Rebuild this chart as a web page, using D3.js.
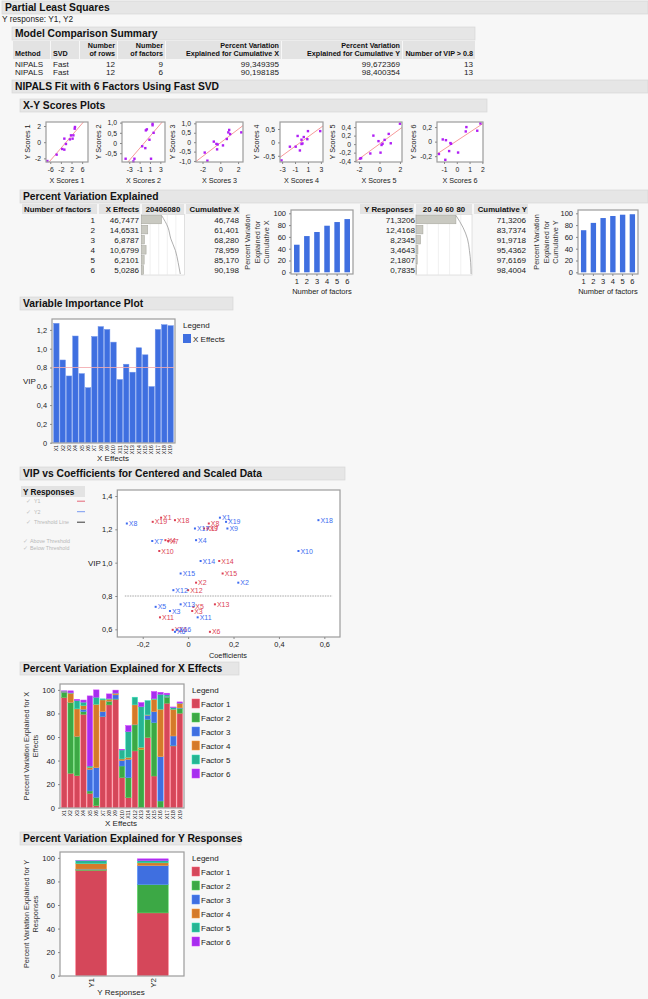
<!DOCTYPE html>
<html>
<head>
<meta charset="utf-8">
<script src="https://cdn.jsdelivr.net/npm/d3@7"></script>
<style>
body { margin: 0; background: #f7f7f7; }
svg { display: block; font-family: "Liberation Sans", Arial, Helvetica, sans-serif; }
</style>
</head>
<body>
<div id="chart"></div>
<script>

// ---- data ----
var summaryMethod = ["NIPALS", "NIPALS"];
var summarySVD = ["Fast", "Fast"];
var summaryRows = [12, 12];
var summaryFactors = [9, 6];
var summaryCumX = [99.349395, 90.198185];
var summaryCumY = [99.672369, 98.400354];
var summaryVIP = [13, 13];

var factorNums = [1, 2, 3, 4, 5, 6];
var xEffectsPct = [46.7477, 14.6531, 6.8787, 10.6799, 6.2101, 5.0286];
var cumulativeX = [46.748, 61.401, 68.280, 78.959, 85.170, 90.198];
var yResponsesPct = [71.3206, 12.4168, 8.2345, 3.4643, 2.1807, 0.7835];
var cumulativeY = [71.3206, 83.7374, 91.9718, 95.4362, 97.6169, 98.4004];

// X-Y scores, one pair of arrays per factor
var xScores1 = [-7.1, -3.6, -1.5, -0.7, -0.7, -0.1, 1.4, 1.8, 2.4, 2.7, 3.2, 3.3];
var yScores1 = [-2.33, -1.54, -0.84, -0.92, 0.44, -0.22, 0.35, 0.85, 0.44, 0.85, 1.67, 1.88];
var xScores2 = [-3.7, -2.2, -2.0, -0.5, 0.1, 0.2, 0.4, 0.9, 1.2, 1.5, 1.5, 1.7];
var yScores2 = [-0.77, -0.9, -0.77, -0.16, -0.25, 0.62, 0.67, 0.16, -0.77, 0.95, 0.87, 0.5];
var xScores3 = [-1.75, -1.45, -0.73, -0.44, -0.3, -0.36, 0.3, 0.73, 0.9, 1.1, 1.0, 2.36];
var yScores3 = [-0.55, -0.98, 0.03, -0.09, -0.12, -0.38, -0.17, 0.17, 0.52, 0.43, 0.65, 0.52];
var xScores4 = [-3.1, -1.8, -0.9, -0.6, -0.25, 0.0, 0.15, 0.35, 0.9, 1.0, 0.0, 2.9];
var yScores4 = [-0.67, -0.16, -0.16, 0.24, -0.3, 0.1, -0.04, 0.2, 0.12, 0.42, -0.06, 0.42];
var xScores5 = [-1.9, -1.8, -0.9, -0.6, -0.1, 0.1, 0.2, 0.3, 0.5, 0.9, 1.1, 2.0];
var yScores5 = [-0.34, -0.33, -0.22, 0.2, 0.07, -0.2, -0.02, 0.01, 0.1, 0.24, 0.02, 0.48];
var xScores6 = [-1.4, -1.1, -0.85, -0.9, -0.6, -0.5, -0.45, 0.1, 0.7, 0.75, 1.6, 1.85];
var yScores6 = [-0.17, 0.03, 0.02, -0.25, -0.13, -0.02, -0.03, -0.15, 0.14, 0.2, 0.15, 0.25];

var xNames = ["X1","X2","X3","X4","X5","X6","X7","X8","X9","X10","X11","X12","X13","X14","X15","X16","X17","X18","X19"];
var vip = [1.27, 0.88, 0.71, 1.135, 0.735, 0.585, 1.13, 1.235, 1.205, 1.07, 0.672, 0.835, 0.75, 1.01, 0.935, 0.597, 1.205, 1.255, 1.245];
var coefY1 = [-0.119, 0.035, 0.018, -0.10, 0.023, 0.096, -0.088, 0.091, 0.085, -0.127, -0.124, 0.0, 0.118, 0.137, 0.152, -0.068, 0.07, -0.058, -0.156];
var coefY2 = [0.14, 0.221, -0.08, 0.035, -0.143, -0.058, -0.158, -0.27, 0.173, 0.486, 0.042, -0.065, -0.033, 0.055, -0.033, -0.05, 0.03, 0.574, 0.167];

var factorNames = ["Factor 1", "Factor 2", "Factor 3", "Factor 4", "Factor 5", "Factor 6"];
var factorColors = ["#d5475a", "#3ca845", "#3f6fe0", "#d47a2a", "#27b493", "#a62eef"];
var xVarFactor1 = [93.5, 29.2, 27.2, 79.3, 12.2, 1.7, 77.3, 87.3, 92.0, 25.5, 8.5, 48.2, 0.2, 59.5, 26.9, 0.2, 88.7, 52.4, 80.2];
var xVarFactor2 = [4.5, 60.0, 33.1, 2.3, 2.0, 7.1, 0.3, 2.8, 0.3, 9.9, 17.0, 22.1, 49.4, 15.5, 45.3, 5.5, 5.1, 0.3, 4.2];
var xVarFactor3 = [0.2, 0.2, 0.3, 2.0, 18.4, 25.2, 4.0, 0.3, 3.5, 4.6, 15.6, 0.3, 0.0, 3.5, 9.4, 37.6, 0.2, 8.2, 0.3];
var xVarFactor4 = [0.5, 7.8, 23.3, 3.0, 1.7, 53.8, 9.9, 1.7, 1.2, 1.4, 1.7, 16.7, 1.7, 0.3, 10.4, 40.3, 0.3, 22.7, 3.8];
var xVarFactor5 = [0.3, 0.3, 7.1, 3.0, 1.1, 6.0, 0.9, 0.5, 0.3, 7.6, 21.8, 6.5, 34.5, 12.1, 0.5, 12.7, 1.5, 1.4, 0.3];
var xVarFactor6 = [0.2, 1.7, 1.0, 1.8, 59.5, 6.2, 0.0, 4.0, 2.5, 0.6, 5.1, 0.0, 3.4, 0.0, 6.1, 1.7, 1.4, 0.5, 1.0];

var yNames = ["Y1", "Y2"];
var yVarFactor1 = [89.4, 53.3];
var yVarFactor2 = [0.8, 24.0];
var yVarFactor3 = [0.3, 16.2];
var yVarFactor4 = [4.6, 2.3];
var yVarFactor5 = [2.5, 1.9];
var yVarFactor6 = [0.1, 1.5];

// ---- helpers ----
var svg = d3.select("#chart").append("svg")
    .attr("width", 648)
    .attr("height", 999);

svg.append("rect").attr("width", 648).attr("height", 999).attr("fill", "#f7f7f7");

function fmtDec(v, n) {
    return d3.format("." + n + "f")(v).replace(".", ",").replace("\u2212", "-");
}
function tickFmt(n) {
    return function(d) { return d === 0 ? "0" : fmtDec(d, n); };
}

function header(x, y, w, label) {
    svg.append("rect")
        .attr("x", x).attr("y", y)
        .attr("width", w).attr("height", 13)
        .attr("fill", "#e6e6e6")
        .attr("stroke", "#d3d3d3")
        .attr("stroke-width", 0.6);
    svg.append("text")
        .attr("x", x + 3).attr("y", y + 10)
        .attr("font-size", 10.3)
        .attr("font-weight", "bold")
        .attr("fill", "#111")
        .text(label);
}

function txt(x, y, s, size, anchor, opts) {
    opts = opts || {};
    return svg.append("text")
        .attr("x", x).attr("y", y)
        .attr("font-size", size)
        .attr("text-anchor", anchor || "start")
        .attr("font-weight", opts.bold ? "bold" : "normal")
        .attr("fill", opts.fill || "#222")
        .text(s);
}

function frame(x0, y0, x1, y1) {
    return svg.append("rect")
        .attr("x", x0).attr("y", y0)
        .attr("width", x1 - x0).attr("height", y1 - y0)
        .attr("fill", "none")
        .attr("stroke", "#9c9c9c")
        .attr("stroke-width", 1.2);
}

function styleAxis(g, size) {
    g.select(".domain").remove();
    g.selectAll("line").attr("stroke", "#888");
    g.selectAll("text").attr("fill", "#222");
    g.attr("font-size", size).attr("font-family", null);
}

// ---- top section ----
header(2, 1, 646, "Partial Least Squares");
txt(2, 21.5, "Y response: Y1, Y2", 8.3);

header(12, 27, 463, "Model Comparison Summary");

var mcCols = [
    {x0: 13, x1: 50, lines: ["", "Method"], anchor: "start"},
    {x0: 51, x1: 79, lines: ["", "SVD"], anchor: "start"},
    {x0: 80, x1: 117, lines: ["Number", "of rows"], anchor: "end"},
    {x0: 118, x1: 165, lines: ["Number", "of factors"], anchor: "end"},
    {x0: 166, x1: 281, lines: ["Percent Variation", "Explained for Cumulative X"], anchor: "end"},
    {x0: 282, x1: 402, lines: ["Percent Variation", "Explained for Cumulative Y"], anchor: "end"},
    {x0: 403, x1: 475, lines: ["", "Number of VIP > 0.8"], anchor: "end"}
];
mcCols.forEach(function(c) {
    svg.append("rect").attr("x", c.x0).attr("y", 41).attr("width", c.x1 - c.x0).attr("height", 18)
        .attr("fill", "#e3e3e3");
    var tx = c.anchor == "start" ? c.x0 + 2 : c.x1 - 2;
    c.lines.forEach(function(l, i) {
        if (l) txt(tx, 48 + i * 8, l, 7.2, c.anchor, {bold: true, fill: "#111"});
    });
});

summaryMethod.forEach(function(m, i) {
    var yy = 66.5 + i * 8.3;
    txt(15, yy, m, 8.1);
    txt(53, yy, summarySVD[i], 8.1);
    txt(115, yy, summaryRows[i], 8.1, "end");
    txt(163, yy, summaryFactors[i], 8.1, "end");
    txt(279, yy, fmtDec(summaryCumX[i], 6), 8.1, "end");
    txt(400, yy, fmtDec(summaryCumY[i], 6), 8.1, "end");
    txt(473, yy, summaryVIP[i], 8.1, "end");
});

header(12, 80, 636, "NIPALS Fit with 6 Factors Using Fast SVD");
header(20, 99, 467, "X-Y Scores Plots");

// ---- X-Y scores plots ----
var scoresSpec = [
    {xs: xScores1, ys: yScores1, left: 46, w: 42, xd: [-7.6, 8.2], yd: [-2.45, 2.5], xt: [-6, -2, 2, 6], yt: [2, 0, -2], dec: 0, lab: 16},
    {xs: xScores2, ys: yScores2, left: 122, w: 43, xd: [-4.4, 3.9], yd: [-0.93, 1.03], xt: [-3, -1, 1, 3], yt: [1, 0.5, 0, -0.5], dec: 1, lab: 21},
    {xs: xScores3, ys: yScores3, left: 196, w: 47, xd: [-2.73, 2.55], yd: [-1.05, 1.07], xt: [-2, 0, 2], yt: [1, 0.5, 0, -0.5, -1], dec: 1, lab: 21},
    {xs: xScores4, ys: yScores4, left: 280, w: 43, xd: [-3.33, 3.33], yd: [-0.73, 0.76], xt: [-3, -1, 1, 3], yt: [0.5, 0, -0.5], dec: 1, lab: 21},
    {xs: xScores5, ys: yScores5, left: 356, w: 46, xd: [-2.3, 2.2], yd: [-0.42, 0.52], xt: [-2, 0, 2], yt: [0.4, 0.2, 0, -0.2, -0.4], dec: 1, lab: 21},
    {xs: xScores6, ys: yScores6, left: 437, w: 46, xd: [-1.55, 2.05], yd: [-0.28, 0.27], xt: [-1, 0, 1, 2], yt: [0.2, 0, -0.2], dec: 1, lab: 21}
];

scoresSpec.forEach(function(s, k) {
    var top = 122, h = 40;
    var x = d3.scaleLinear().domain(s.xd).range([s.left, s.left + s.w]);
    var y = d3.scaleLinear().domain(s.yd).range([top + h, top]);

    svg.append("rect").attr("x", s.left).attr("y", top).attr("width", s.w).attr("height", h).attr("fill", "#fff");
    svg.append("clipPath").attr("id", "clipS" + k)
        .append("rect").attr("x", s.left).attr("y", top).attr("width", s.w).attr("height", h);

    // least squares fit line
    var mx = d3.mean(s.xs), my = d3.mean(s.ys);
    var sxy = d3.sum(s.xs, function(v, i) { return (v - mx) * (s.ys[i] - my); });
    var sxx = d3.sum(s.xs, function(v) { return (v - mx) * (v - mx); });
    var b = sxy / sxx, a = my - b * mx;
    svg.append("line")
        .attr("clip-path", "url(#clipS" + k + ")")
        .attr("x1", x(s.xd[0])).attr("y1", y(a + b * s.xd[0]))
        .attr("x2", x(s.xd[1])).attr("y2", y(a + b * s.xd[1]))
        .attr("stroke", "#f79a9a").attr("stroke-width", 1);

    svg.append("g").selectAll("rect")
        .data(s.xs)
        .enter().append("rect")
        .attr("x", function(d) { return x(d) - 1.2; })
        .attr("y", function(d, i) { return y(s.ys[i]) - 1.2; })
        .attr("width", 2.4).attr("height", 2.4)
        .attr("fill", "#b01ff5");

    frame(s.left, top, s.left + s.w, top + h);

    var gx = svg.append("g").attr("transform", "translate(0," + (top + h) + ")")
        .call(d3.axisBottom(x).tickValues(s.xt).tickSize(2).tickFormat(tickFmt(0)));
    styleAxis(gx, 6.8);
    var gy = svg.append("g").attr("transform", "translate(" + s.left + ",0)")
        .call(d3.axisLeft(y).tickValues(s.yt).tickSize(2).tickFormat(tickFmt(s.dec)));
    styleAxis(gy, 6.8);

    txt(s.left + s.w / 2, 183, "X Scores " + (k + 1), 7.2, "middle");
    svg.append("text")
        .attr("transform", "translate(" + (s.left - s.lab) + "," + (top + h / 2) + ") rotate(-90)")
        .attr("font-size", 7.2).attr("text-anchor", "middle").attr("fill", "#222")
        .text("Y Scores " + (k + 1));
});

// ---- Percent Variation Explained ----
header(20, 190, 628, "Percent Variation Explained");

var rowY0 = 219.5, rowStep = 10.1;

function barCell(x0, x1, values, cum) {
    var top = 214.5, bottom = 275;
    var bx = d3.scaleLinear().domain([0, 100]).range([x0, x1]);
    svg.append("rect").attr("x", x0).attr("y", top).attr("width", x1 - x0).attr("height", bottom - top)
        .attr("fill", "#fff").attr("stroke", "#cfcfcf").attr("stroke-width", 0.6);
    svg.append("g").selectAll("line")
        .data([20, 40, 60, 80])
        .enter().append("line")
        .attr("x1", bx).attr("x2", bx)
        .attr("y1", top).attr("y2", bottom)
        .attr("stroke", "#e6e6e6").attr("stroke-width", 0.6);
    svg.append("g").selectAll("rect")
        .data(values)
        .enter().append("rect")
        .attr("x", x0)
        .attr("y", function(d, i) { return rowY0 + i * rowStep - 4.3; })
        .attr("width", function(d) { return bx(d) - x0; })
        .attr("height", 8.6)
        .attr("fill", "#c9c9c1").attr("stroke", "#a2a29a").attr("stroke-width", 0.5);
    var cy = d3.scaleLinear().domain([0, cum.length - 1]).range([top + 1, bottom - 1]);
    svg.append("path")
        .datum(cum)
        .attr("d", d3.line().x(function(d) { return bx(d); }).y(function(d, i) { return cy(i); }).curve(d3.curveMonotoneY))
        .attr("fill", "none").attr("stroke", "#9a9a9a").attr("stroke-width", 0.8);
    // tick labels in header
    [20, 40, 60, 80].forEach(function(t) {
        txt(bx(t), 212, t, 7.8, "middle", {bold: true, fill: "#111"});
    });
}

function headCell(x0, x1, label, anchor) {
    svg.append("rect").attr("x", x0).attr("y", 204).attr("width", x1 - x0).attr("height", 10).attr("fill", "#e3e3e3");
    if (label) txt(anchor == "end" ? x1 - 1 : x0 + 2, 212, label, 7.8, anchor || "start", {bold: true, fill: "#111"});
}

// table X
headCell(22, 97, "Number of factors");
headCell(99, 140, "X Effects", "end");
headCell(142, 184, "");
headCell(186, 240, "Cumulative X", "end");
barCell(141.5, 184.5, xEffectsPct, cumulativeX);
factorNums.forEach(function(f, i) {
    var yy = rowY0 + i * rowStep + 3;
    txt(95, yy, f, 8.1, "end");
    txt(139, yy, fmtDec(xEffectsPct[i], 4), 8.1, "end");
    txt(239, yy, fmtDec(cumulativeX[i], 3), 8.1, "end");
});

// table Y
headCell(360, 414, "Y Responses", "end");
headCell(416, 472, "");
headCell(474, 528, "Cumulative Y", "end");
barCell(416, 472, yResponsesPct, cumulativeY);
factorNums.forEach(function(f, i) {
    var yy = rowY0 + i * rowStep + 3;
    txt(415, yy, fmtDec(yResponsesPct[i], 4), 8.1, "end");
    txt(526, yy, fmtDec(cumulativeY[i], 4), 8.1, "end");
});

function cumChart(x0, x1, values, labX, lines) {
    var top = 210, bottom = 274;
    var x = d3.scaleBand().domain(factorNums).range([x0 + 1, x1 - 1]).paddingInner(0.45).paddingOuter(0.2);
    var y = d3.scaleLinear().domain([0, 100]).range([272.3, 213.3]);
    svg.append("rect").attr("x", x0).attr("y", top).attr("width", x1 - x0).attr("height", bottom - top).attr("fill", "#fff");
    svg.append("g").selectAll("rect")
        .data(values)
        .enter().append("rect")
        .attr("x", function(d, i) { return x(factorNums[i]); })
        .attr("y", function(d) { return y(d); })
        .attr("width", x.bandwidth())
        .attr("height", function(d) { return y(0) - y(d); })
        .attr("fill", "#3f6fe0");
    frame(x0, top, x1, bottom);
    var gy = svg.append("g").attr("transform", "translate(" + x0 + ",0)")
        .call(d3.axisLeft(y).tickValues([0, 20, 40, 60, 80, 100]).tickSize(2));
    styleAxis(gy, 7.5);
    var gx = svg.append("g").attr("transform", "translate(0," + bottom + ")")
        .call(d3.axisBottom(x).tickSize(2));
    styleAxis(gx, 7.5);
    txt((x0 + x1) / 2, 294, "Number of factors", 7.5, "middle");
    lines.forEach(function(l, i) {
        svg.append("text")
            .attr("transform", "translate(" + (labX + i * 9.5) + ",242) rotate(-90)")
            .attr("font-size", 7.3).attr("text-anchor", "middle").attr("fill", "#333")
            .text(l);
    });
}
cumChart(291, 353, cumulativeX, 250, ["Percent Variation", "Explained for", "Cumulative X"]);
cumChart(578, 638, cumulativeY, 539, ["Percent Variation", "Explained for", "Cumulative Y"]);

// ---- Variable Importance Plot ----
header(20, 297, 213, "Variable Importance Plot");

var vipX = d3.scaleBand().domain(xNames).range([53, 174]).paddingInner(0.14).paddingOuter(0.1);
var vipY = d3.scaleLinear().domain([0, 1.316]).range([442.7, 319]);
svg.append("rect").attr("x", 52).attr("y", 319).attr("width", 123).attr("height", 124).attr("fill", "#fff");
svg.append("g").selectAll("rect")
    .data(vip)
    .enter().append("rect")
    .attr("x", function(d, i) { return vipX(xNames[i]); })
    .attr("y", function(d) { return vipY(d); })
    .attr("width", vipX.bandwidth())
    .attr("height", function(d) { return vipY(0) - vipY(d); })
    .attr("fill", "#3f6fe0")
    .attr("stroke", "#6f93ec").attr("stroke-width", 0.5);
svg.append("line")
    .attr("x1", 53).attr("x2", 174)
    .attr("y1", vipY(0.8)).attr("y2", vipY(0.8))
    .attr("stroke", "#f2a9ae").attr("stroke-width", 1.2)
    .attr("stroke-opacity", 0.85);
frame(52, 319, 175, 443);
var vgy = svg.append("g").attr("transform", "translate(52,0)")
    .call(d3.axisLeft(vipY).tickValues([0, 0.2, 0.4, 0.6, 0.8, 1.0, 1.2]).tickSize(2).tickFormat(tickFmt(1)));
styleAxis(vgy, 7.4);
var vgx = svg.append("g").attr("transform", "translate(0,443)")
    .call(d3.axisBottom(vipX).tickSize(0));
styleAxis(vgx, 5.2);
vgx.selectAll("text")
    .attr("transform", "rotate(-90)")
    .attr("x", -2).attr("y", 0).attr("dy", "0.35em")
    .style("text-anchor", "end");
txt(113, 461, "X Effects", 8, "middle");
txt(23, 384, "VIP", 8);
txt(183, 328, "Legend", 8);
svg.append("rect").attr("x", 183).attr("y", 334).attr("width", 8).attr("height", 9).attr("fill", "#3f6fe0");
txt(193, 341.5, "X Effects", 8);

// ---- VIP vs Coefficients ----
header(20, 467, 325, "VIP vs Coefficients for Centered and Scaled Data");

svg.append("rect").attr("x", 21).attr("y", 486).attr("width", 64).attr("height", 11).attr("fill", "#e3e3e3");
txt(23, 494.5, "Y Responses", 8.2, "start", {bold: true, fill: "#111"});
var legendItems = [
    {label: "Y1", y: 503, col: "#e2566a"},
    {label: "Y2", y: 513.5, col: "#6a8ff0"},
    {label: "Threshold Line", y: 524, col: "#222"}
];
legendItems.forEach(function(it) {
    txt(26, it.y, "\u2713", 5.5, "start", {fill: "#c4c4c4"});
    txt(34, it.y, it.label, 5.3, "start", {fill: "#b8b8b8"});
    svg.append("line").attr("x1", 77).attr("x2", 85).attr("y1", it.y - 1.8).attr("y2", it.y - 1.8)
        .attr("stroke", it.col).attr("stroke-width", 0.9);
});
txt(23, 543, "\u2713", 5.5, "start", {fill: "#c4c4c4"});
txt(30, 543, "Above Threshold", 5.3, "start", {fill: "#b8b8b8"});
txt(23, 550, "\u2713", 5.5, "start", {fill: "#c4c4c4"});
txt(30, 550, "Below Threshold", 5.3, "start", {fill: "#b8b8b8"});

var cx = d3.scaleLinear().domain([-0.312, 0.669]).range([117.3, 340]);
var cy = d3.scaleLinear().domain([0.554, 1.436]).range([637, 490]);
svg.append("rect").attr("x", 117.3).attr("y", 490).attr("width", 222.7).attr("height", 147).attr("fill", "#fff");
var allCoef = coefY1.concat(coefY2);
svg.append("line")
    .attr("x1", cx(d3.min(allCoef)) - 2).attr("x2", cx(d3.max(allCoef)) + 14)
    .attr("y1", cy(0.8)).attr("y2", cy(0.8))
    .attr("stroke", "#9a9a9a").attr("stroke-width", 0.9).attr("stroke-dasharray", "1.5,1");

function coefSeries(coefs, color) {
    var g = svg.append("g");
    g.selectAll("rect")
        .data(coefs)
        .enter().append("rect")
        .attr("x", function(d) { return cx(d) - 1; })
        .attr("y", function(d, i) { return cy(vip[i]) - 1; })
        .attr("width", 2).attr("height", 2)
        .attr("fill", color);
    g.selectAll("text")
        .data(coefs)
        .enter().append("text")
        .attr("x", function(d) { return cx(d) + 2; })
        .attr("y", function(d, i) { return cy(vip[i]) + 2.5; })
        .attr("font-size", 7)
        .attr("fill", color)
        .text(function(d, i) { return xNames[i]; });
}
coefSeries(coefY1, "#dc3f55");
coefSeries(coefY2, "#3d6cf0");
frame(117.3, 490, 340, 637);
var cgy = svg.append("g").attr("transform", "translate(117.3,0)")
    .call(d3.axisLeft(cy).tickValues([0.6, 0.8, 1.0, 1.2, 1.4]).tickSize(2).tickFormat(tickFmt(1)));
styleAxis(cgy, 7.4);
var cgx = svg.append("g").attr("transform", "translate(0,637)")
    .call(d3.axisBottom(cx).tickValues([-0.2, 0, 0.2, 0.4, 0.6]).tickSize(2).tickFormat(tickFmt(1)));
styleAxis(cgx, 7.4);
txt(228, 657.5, "Coefficients", 7.3, "middle");
txt(88, 565.5, "VIP", 8);

// ---- stacked charts ----
function stackedChart(top, names, rowsByFactor, xLabel, yLines, tickSize, bandPad, outerPad, rotLabels) {
    var x0 = 60, x1 = 184, bottom = top + 124;
    var table = names.map(function(n, i) {
        var o = {name: n};
        factorNames.forEach(function(f, j) { o[f] = rowsByFactor[j][i]; });
        return o;
    });
    var layers = d3.stack().keys(factorNames)(table);
    var x = d3.scaleBand().domain(names).range([x0 + 1, x1 - 1]).paddingInner(bandPad).paddingOuter(outerPad);
    var y = d3.scaleLinear().domain([0, 105]).range([bottom - 0.3, top]);
    var z = d3.scaleOrdinal().domain(factorNames).range(factorColors);

    svg.append("rect").attr("x", x0).attr("y", top).attr("width", x1 - x0).attr("height", bottom - top).attr("fill", "#fff");
    var groups = svg.append("g").selectAll("g")
        .data(layers)
        .enter().append("g")
        .attr("fill", function(d) { return z(d.key); })
        .attr("stroke", function(d) { return d3.color(z(d.key)).brighter(0.7); });
    groups.selectAll("rect")
        .data(function(d) { return d; })
        .enter().append("rect")
        .attr("x", function(d) { return x(d.data.name); })
        .attr("y", function(d) { return y(d[1]); })
        .attr("height", function(d) { return Math.max(0, y(d[0]) - y(d[1])); })
        .attr("width", x.bandwidth())
        .attr("stroke-width", 0.5);
    frame(x0, top, x1, bottom);

    var gy = svg.append("g").attr("transform", "translate(" + x0 + ",0)")
        .call(d3.axisLeft(y).tickValues([0, 20, 40, 60, 80, 100]).tickSize(2));
    styleAxis(gy, 7.6);
    var gx = svg.append("g").attr("transform", "translate(0," + bottom + ")")
        .call(d3.axisBottom(x).tickSize(0));
    styleAxis(gx, tickSize);
    gx.selectAll("text")
        .attr("transform", "rotate(-90)")
        .attr("x", -2).attr("y", 0).attr("dy", "0.35em")
        .style("text-anchor", "end");
    txt(121, bottom + (rotLabels ? 19 : 18), xLabel, 8, "middle");
    yLines.forEach(function(l, i) {
        svg.append("text")
            .attr("transform", "translate(" + (29 + i * 9) + "," + (top + 62) + ") rotate(-90)")
            .attr("font-size", 7.4).attr("text-anchor", "middle").attr("fill", "#333")
            .text(l);
    });

    txt(192, top + 9, "Legend", 8);
    factorNames.forEach(function(f, i) {
        svg.append("rect").attr("x", 192).attr("y", top + 15 + i * 14).attr("width", 7.5).attr("height", 9)
            .attr("fill", z(f)).attr("stroke", d3.color(z(f)).brighter(0.7)).attr("stroke-width", 0.5);
        txt(201, top + 22.5 + i * 14, f, 8);
    });
}

header(20, 662, 219, "Percent Variation Explained for X Effects");
stackedChart(684, xNames,
    [xVarFactor1, xVarFactor2, xVarFactor3, xVarFactor4, xVarFactor5, xVarFactor6],
    "X Effects", ["Percent Variation Explained for X", "Effects"], 5.2, 0.16, 0.08, false);

header(20, 832, 221, "Percent Variation Explained for Y Responses");
stackedChart(852, yNames,
    [yVarFactor1, yVarFactor2, yVarFactor3, yVarFactor4, yVarFactor5, yVarFactor6],
    "Y Responses", ["Percent Variation Explained for Y", "Responses"], 8, 0.5, 0.24, true);

</script>
</body>
</html>
